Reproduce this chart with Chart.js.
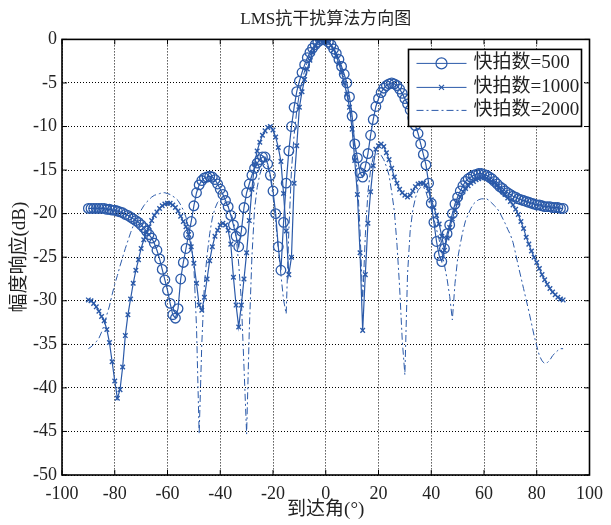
<!DOCTYPE html>
<html lang="zh">
<head>
<meta charset="UTF-8">
<title>LMS抗干扰算法方向图</title>
<script src="https://cdn.jsdelivr.net/npm/chart.js"></script>
<style>
  html, body { margin: 0; padding: 0; background: #fff; }
  #wrap { width: 611px; height: 525px; position: relative; }
</style>
</head>
<body>
<div id="wrap"><canvas id="chart"></canvas></div>
<script>
// arrival angle (deg), one sample per degree
const angles = [
  -90,-89,-88,-87,-86,-85,-84,-83,-82,-81,
  -80,-79,-78,-77,-76,-75,-74,-73,-72,-71,
  -70,-69,-68,-67,-66,-65,-64,-63,-62,-61,
  -60,-59,-58,-57,-56,-55,-54,-53,-52,-51,
  -50,-49,-48,-47,-46,-45,-44,-43,-42,-41,
  -40,-39,-38,-37,-36,-35,-34,-33,-32,-31,
  -30,-29,-28,-27,-26,-25,-24,-23,-22,-21,
  -20,-19,-18,-17,-16,-15,-14,-13,-12,-11,
  -10,-9,-8,-7,-6,-5,-4,-3,-2,-1,
  0,1,2,3,4,5,6,7,8,9,
  10,11,12,13,14,15,16,17,18,19,
  20,21,22,23,24,25,26,27,28,29,
  30,31,32,33,34,35,36,37,38,39,
  40,41,42,43,44,45,46,47,48,49,
  50,51,52,53,54,55,56,57,58,59,
  60,61,62,63,64,65,66,67,68,69,
  70,71,72,73,74,75,76,77,78,79,
  80,81,82,83,84,85,86,87,88,89,
  90
];

// 快拍数=500
const db500 = [
  -19.4,-19.4,-19.4,-19.4,-19.4,-19.4,-19.4,-19.5,-19.5,-19.6,
  -19.6,-19.7,-19.8,-19.9,-20.1,-20.2,-20.4,-20.6,-20.8,-21.0,
  -21.3,-21.6,-22.0,-22.4,-22.8,-23.4,-24.2,-25.2,-26.4,-27.6,
  -28.8,-30.3,-31.6,-32.0,-30.9,-27.5,-25.6,-24.0,-22.4,-20.9,
  -19.1,-17.6,-16.7,-16.2,-15.9,-15.8,-15.7,-15.8,-16.1,-16.6,
  -17.2,-17.8,-18.5,-19.2,-20.2,-21.3,-22.6,-23.8,-22.0,-19.3,
  -17.6,-16.6,-15.6,-14.8,-14.2,-13.8,-13.5,-13.5,-14.3,-15.6,
  -17.4,-20.0,-23.8,-26.5,-21.0,-16.5,-12.8,-10.0,-7.8,-6.0,
  -4.8,-3.8,-2.9,-2.1,-1.5,-1.0,-0.6,-0.3,-0.1,0.0,
  -0.1,-0.3,-0.6,-1.1,-1.6,-2.3,-3.1,-4.0,-5.0,-6.6,
  -8.8,-12.0,-13.6,-15.3,-15.8,-14.6,-13.1,-11.0,-9.2,-7.7,
  -6.8,-6.1,-5.6,-5.3,-5.1,-5.0,-5.1,-5.3,-5.7,-6.2,
  -6.8,-7.4,-8.1,-9.0,-9.9,-10.8,-12.0,-13.2,-14.4,-16.5,
  -18.8,-21.0,-23.2,-24.8,-25.5,-24.0,-22.3,-21.3,-20.0,-18.9,
  -18.1,-17.4,-16.8,-16.3,-16.0,-15.8,-15.6,-15.5,-15.4,-15.4,
  -15.5,-15.6,-15.8,-16.0,-16.3,-16.6,-16.9,-17.1,-17.4,-17.6,
  -17.8,-18.0,-18.1,-18.3,-18.4,-18.5,-18.6,-18.7,-18.8,-18.9,
  -19.0,-19.0,-19.1,-19.2,-19.2,-19.2,-19.3,-19.3,-19.3,-19.4,
  -19.4
];

// 快拍数=1000
const db1000 = [
  -29.9,-30.0,-30.3,-30.7,-31.2,-31.8,-32.3,-33.3,-34.8,-37.0,
  -39.2,-41.2,-40.2,-37.6,-34.0,-31.6,-29.8,-28.0,-26.5,-25.3,
  -24.0,-23.0,-22.2,-21.5,-20.8,-20.2,-19.8,-19.4,-19.1,-18.9,
  -18.8,-18.8,-19.0,-19.3,-19.7,-20.3,-20.9,-21.5,-22.4,-23.8,
  -25.7,-28.0,-30.5,-31.1,-29.6,-27.5,-25.4,-23.8,-22.6,-21.9,
  -21.3,-21.1,-21.3,-21.9,-23.5,-27.3,-30.5,-33.0,-30.5,-27.5,
  -24.5,-20.8,-17.2,-14.3,-12.8,-11.8,-11.0,-10.5,-10.1,-10.0,
  -10.4,-11.2,-12.4,-14.0,-17.7,-22.0,-27.0,-25.0,-16.5,-12.2,
  -7.8,-6.0,-4.6,-3.4,-2.4,-1.5,-0.8,-0.3,-0.1,0.0,
  -0.1,-0.3,-0.7,-1.2,-1.9,-2.8,-3.8,-5.0,-6.3,-7.8,
  -10.3,-13.9,-17.8,-24.5,-33.4,-27.0,-21.1,-17.5,-14.5,-12.6,
  -12.2,-12.0,-12.3,-13.0,-13.8,-14.8,-15.8,-16.5,-17.2,-17.6,
  -17.9,-18.1,-17.9,-17.4,-16.9,-16.6,-16.5,-16.5,-16.7,-17.4,
  -18.4,-19.3,-20.2,-21.2,-22.6,-24.2,-22.8,-21.6,-20.6,-19.6,
  -18.8,-18.1,-17.5,-17.1,-16.8,-16.5,-16.3,-16.1,-16.0,-15.9,
  -15.8,-15.9,-16.1,-16.3,-16.5,-16.8,-17.1,-17.5,-17.8,-18.2,
  -18.6,-19.0,-19.5,-20.1,-20.9,-21.7,-22.7,-23.5,-24.3,-25.0,
  -25.6,-26.3,-27.0,-27.6,-28.1,-28.6,-29.0,-29.3,-29.6,-29.8,
  -29.9
];

// 快拍数=2000
const db2000 = [
  -35.5,-35.3,-35.0,-34.7,-34.3,-33.6,-32.8,-31.6,-30.6,-29.3,
  -28.1,-27.1,-26.0,-25.0,-24.0,-23.1,-22.2,-21.4,-20.7,-20.1,
  -19.6,-19.1,-18.7,-18.4,-18.1,-17.9,-17.8,-17.7,-17.6,-17.6,
  -17.7,-17.8,-18.0,-18.2,-18.5,-19.0,-19.6,-20.4,-21.6,-23.4,
  -26.1,-33.0,-45.3,-35.0,-28.0,-24.8,-22.3,-20.5,-19.4,-18.7,
  -18.4,-18.4,-18.7,-19.2,-19.9,-20.8,-22.5,-25.8,-30.0,-37.6,
  -45.3,-33.5,-25.0,-19.5,-17.0,-15.5,-14.6,-14.3,-14.6,-15.8,
  -18.0,-20.8,-24.0,-27.0,-29.9,-31.5,-22.0,-15.0,-11.0,-8.2,
  -6.2,-4.8,-3.6,-2.6,-1.8,-1.1,-0.6,-0.3,-0.1,0.0,
  -0.1,-0.3,-0.6,-1.1,-1.7,-2.5,-3.4,-4.5,-5.9,-7.6,
  -9.6,-12.3,-16.0,-22.0,-30.0,-22.5,-17.5,-15.0,-13.5,-13.2,
  -13.1,-13.3,-13.8,-14.6,-15.6,-17.5,-19.7,-23.5,-28.4,-34.5,
  -38.5,-27.0,-22.0,-19.6,-18.2,-17.3,-17.0,-16.9,-17.5,-18.5,
  -19.5,-20.6,-21.8,-23.0,-24.4,-25.9,-27.5,-29.5,-32.2,-28.0,
  -25.2,-23.5,-22.0,-20.8,-20.1,-19.4,-18.9,-18.6,-18.4,-18.3,
  -18.3,-18.3,-18.5,-18.8,-19.1,-19.4,-19.9,-20.5,-21.1,-21.8,
  -22.4,-23.3,-24.6,-26.0,-27.3,-28.6,-29.9,-31.2,-32.6,-34.0,
  -35.2,-36.3,-36.9,-37.2,-37.1,-36.8,-36.3,-36.0,-35.7,-35.5,
  -35.5
];

const xTicks = [-100, -80, -60, -40, -20, 0, 20, 40, 60, 80, 100];
const yTicks = [-50, -45, -40, -35, -30, -25, -20, -15, -10, -5, 0];
const seriesNames = ['快拍数=500', '快拍数=1000', '快拍数=2000'];

const BLUE = '#2b5aa9';
const FONT = "'Liberation Serif', 'Noto Sans CJK SC', serif";

function toPoints(vals) {
  return angles.map((a, i) => ({ x: a, y: vals[i] }));
}

// box frame, inward tick marks and the legend, MATLAB style
const framePlugin = {
  id: 'frame',
  afterDraw(chart) {
    const { ctx, chartArea: ca, scales } = chart;
    ctx.save();
    ctx.strokeStyle = '#000';
    ctx.lineWidth = 1;
    ctx.setLineDash([]);
    ctx.beginPath();
    xTicks.forEach(v => {
      const px = scales.x.getPixelForValue(v);
      ctx.moveTo(px, ca.bottom); ctx.lineTo(px, ca.bottom - 5);
      ctx.moveTo(px, ca.top); ctx.lineTo(px, ca.top + 5);
    });
    yTicks.forEach(v => {
      const py = scales.y.getPixelForValue(v);
      ctx.moveTo(ca.left, py); ctx.lineTo(ca.left + 5, py);
      ctx.moveTo(ca.right, py); ctx.lineTo(ca.right - 5, py);
    });
    ctx.stroke();
    ctx.lineWidth = 1.6;
    ctx.strokeRect(ca.left, ca.top, ca.right - ca.left, ca.bottom - ca.top);

    // legend box
    const bx = ca.right - 181, by = ca.top + 10, bw = 173, bh = 77;
    ctx.fillStyle = '#fff';
    ctx.fillRect(bx, by, bw, bh);
    ctx.lineWidth = 1.6;
    ctx.strokeRect(bx, by, bw, bh);
    const rows = [by + 14, by + 38, by + 61];
    rows.forEach((ry, i) => {
      ctx.strokeStyle = BLUE;
      ctx.lineWidth = 1;
      ctx.setLineDash(i === 2 ? [7, 3, 2, 3] : []);
      ctx.beginPath();
      ctx.moveTo(bx + 8, ry); ctx.lineTo(bx + 58, ry);
      ctx.stroke();
      ctx.setLineDash([]);
      const mx = bx + 33;
      if (i === 0) {
        ctx.lineWidth = 1.2;
        ctx.beginPath();
        ctx.arc(mx, ry, 5.5, 0, Math.PI * 2);
        ctx.stroke();
      } else if (i === 1) {
        ctx.lineWidth = 1.2;
        ctx.beginPath();
        ctx.moveTo(mx - 2.5, ry - 2.5); ctx.lineTo(mx + 2.5, ry + 2.5);
        ctx.moveTo(mx + 2.5, ry - 2.5); ctx.lineTo(mx - 2.5, ry + 2.5);
        ctx.stroke();
      }
      ctx.fillStyle = '#222';
      ctx.font = '19px ' + FONT;
      ctx.textBaseline = 'middle';
      ctx.textAlign = 'left';
      ctx.fillText(seriesNames[i], bx + 65, ry);
    });
    ctx.restore();
  }
};

new Chart(document.getElementById('chart'), {
  type: 'line',
  data: {
    datasets: [
      {
        label: seriesNames[0],
        data: toPoints(db500),
        borderColor: BLUE,
        backgroundColor: 'rgba(0,0,0,0)',
        borderWidth: 1.2,
        pointStyle: 'circle',
        pointRadius: 4.8,
        pointBorderWidth: 1.3,
        pointBorderColor: BLUE,
        pointBackgroundColor: 'rgba(0,0,0,0)',
        order: 2
      },
      {
        label: seriesNames[1],
        data: toPoints(db1000),
        borderColor: BLUE,
        backgroundColor: 'rgba(0,0,0,0)',
        borderWidth: 1.2,
        pointStyle: 'crossRot',
        pointRadius: 3.2,
        pointBorderWidth: 1.4,
        pointBorderColor: BLUE,
        order: 1
      },
      {
        label: seriesNames[2],
        data: toPoints(db2000),
        borderColor: BLUE,
        borderWidth: 1,
        borderDash: [7, 3, 2, 3],
        pointRadius: 0,
        order: 0
      }
    ]
  },
  options: {
    responsive: true,
    maintainAspectRatio: false,
    animation: false,
    layout: { padding: { left: 0, right: 18, top: 0, bottom: 0 } },
    plugins: {
      legend: { display: false },
      tooltip: { enabled: false },
      title: {
        display: true,
        fullSize: false,
        text: 'LMS抗干扰算法方向图',
        color: '#222',
        font: { family: FONT, size: 17, weight: 'normal' },
        padding: { top: 9, bottom: 10 }
      }
    },
    scales: {
      x: {
        type: 'linear',
        min: -100,
        max: 100,
        afterBuildTicks: s => { s.ticks = xTicks.map(v => ({ value: v })); },
        afterFit: s => { s.height = 50; },
        grid: { color: '#000', lineWidth: 1, drawTicks: false },
        border: { display: false, dash: [1, 2] },
        ticks: { color: '#222', padding: 8, font: { family: FONT, size: 18 } },
        title: {
          display: true,
          text: '到达角(°)',
          color: '#222',
          font: { family: FONT, size: 19 },
          padding: { top: 0, bottom: 4 }
        }
      },
      y: {
        min: -50,
        max: 0,
        afterBuildTicks: s => { s.ticks = yTicks.map(v => ({ value: v })); },
        afterFit: s => { s.width = 62; },
        grid: { color: '#000', lineWidth: 1, drawTicks: false },
        border: { display: false, dash: [1, 2] },
        ticks: { color: '#222', padding: 5, font: { family: FONT, size: 18 } },
        title: {
          display: true,
          text: '幅度响应(dB)',
          color: '#222',
          font: { family: FONT, size: 19 },
          padding: { top: 9, bottom: 0 }
        }
      }
    }
  },
  plugins: [framePlugin]
});
</script>
</body>
</html>
